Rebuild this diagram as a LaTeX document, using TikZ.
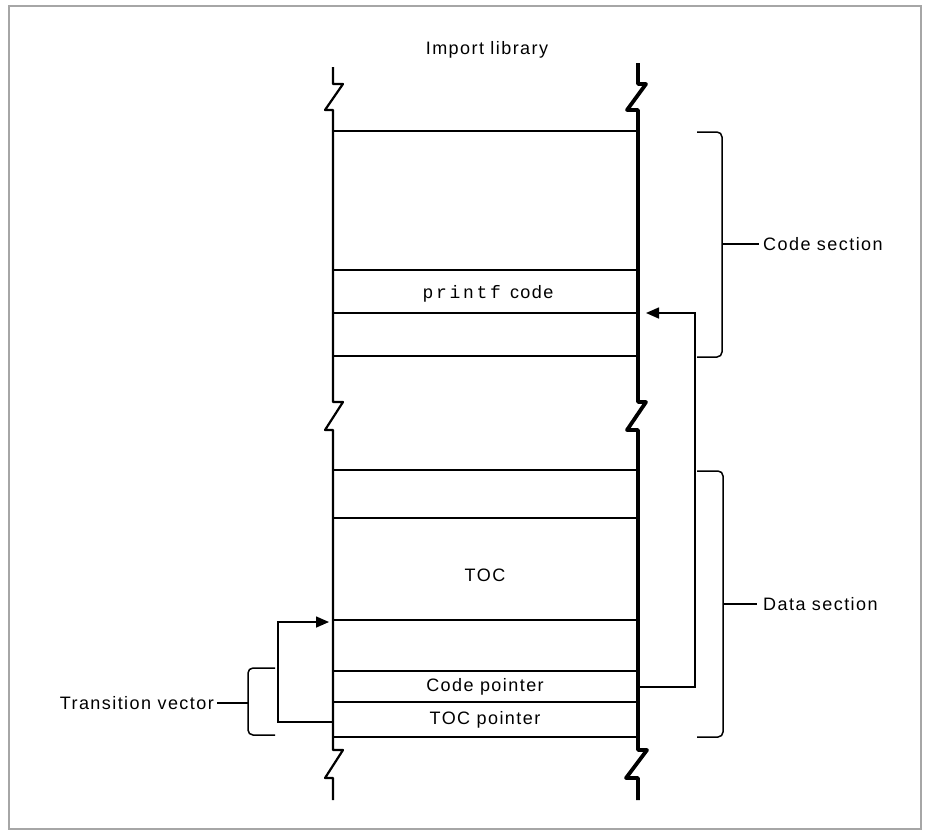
\documentclass[tikz,border=0pt]{standalone}
\usepackage{fontspec}
\setmainfont[LetterSpace=8]{Liberation Sans}
\setmonofont[LetterSpace=15]{Liberation Mono}
\usetikzlibrary{arrows.meta}
\begin{document}
\begin{tikzpicture}[x=1pt,y=-1pt,
  rowline/.style={line width=1.6pt},
  colL/.style={line width=2.2pt, line join=round},
  colR/.style={line width=3.8pt, line join=round},
  lbl/.style={font=\fontsize{18}{20}\selectfont, inner sep=0pt},
  brace/.style={line width=1.5pt, rounded corners=5pt},
  tick/.style={line width=1.5pt},
  arr/.style={line width=1.6pt, -{Triangle[length=13pt,width=11pt]}},
  frame/.style={draw=black!35, line width=1.5pt}]
\useasboundingbox (0,0) rectangle (928,831);
\draw[frame] (9,6) rectangle (921,829);

% column sides with break marks
\draw[colL] (333,67) -- (333,84) -- (343,84) -- (325,110) -- (333,110)
  -- (333,402) -- (343,402) -- (325,430) -- (333,430)
  -- (333,750) -- (343,750) -- (325,778) -- (333,778) -- (333,800);
\draw[colR] (638,63) -- (638,84) -- (646,84) -- (627,110) -- (638,110)
  -- (638,402) -- (646,402) -- (627,430) -- (638,430)
  -- (638,750) -- (647,750) -- (626,778) -- (638,778) -- (638,800);

% row separators
\foreach \yy in {131,270,313,356,470,518,620,671,702,737}
  \draw[rowline] (333,\yy) -- (638,\yy);

% texts
\node[lbl] (title) at (487,50) {Import library};
\node[lbl] (printf) at (488,294) {\texttt{printf} code};
\node[lbl] (toc) at (485,575) {TOC};
\node[lbl] (cp) at (485,687) {Code pointer};
\node[lbl] (tp) at (485,720) {TOC pointer};
\node[lbl, anchor=west] (cs) at (763,244) {Code section};
\node[lbl, anchor=west] (ds) at (763,604) {Data section};
\node[lbl, anchor=east] (tv) at (214,703) {Transition vector};

% braces
\draw[brace] (697,132) -- (722,132) -- (722,357) -- (697,357);
\coordinate (csB) at (722,244);
\draw[tick] (csB) -- ([xshift=-4pt]cs.west);
\draw[brace] (697,471) -- (723,471) -- (723,737) -- (697,737);
\coordinate (dsB) at (723,604);
\draw[tick] (dsB) -- ([xshift=-6pt]ds.west);
\draw[brace] (275,668) -- (248,668) -- (248,735) -- (275,735);
\coordinate (tvB) at (248,703);
\draw[tick] (tvB) -- ([xshift=3pt]tv.east);

% arrows
\coordinate (cpR) at (638,687);
\coordinate (pfT) at (646,313);
\draw[arr] (cpR) -- ++(57,0) |- (pfT);
\coordinate (tpL) at (333,722);
\coordinate (tocT) at (329,622);
\draw[arr] (tpL) -- ++(-55,0) |- (tocT);
\end{tikzpicture}
\end{document}
